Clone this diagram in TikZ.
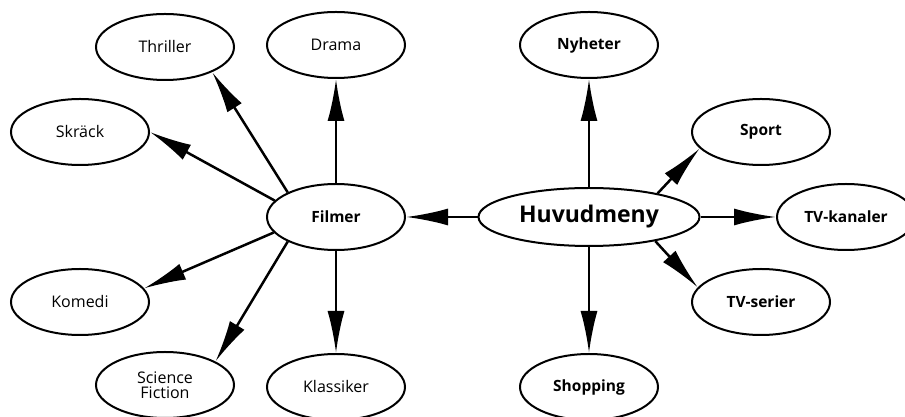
\documentclass[tikz,border=0pt]{standalone}
\usepackage{fontspec}
\setmainfont{Open Sans}
\usetikzlibrary{shapes.geometric, arrows.meta, positioning}

\begin{document}
\begin{tikzpicture}[
    x=1pt, y=1pt,
    item/.style={ellipse, draw, line width=2pt, minimum width=138pt,
                 minimum height=66pt, inner sep=0pt, align=center,
                 font=\fontsize{16}{15.5}\selectfont},
    chan/.style={item, font=\fontsize{15.5}{15.5}\selectfont\bfseries},
    hub/.style={item, minimum width=221pt, minimum height=58pt,
                font=\fontsize{23}{24}\selectfont\bfseries},
    arrow/.style={-{Latex[length=42pt, width=17pt]}, line width=2.5pt},
    node distance=104pt
  ]
    \useasboundingbox (0,0) rectangle (905,417);

    \node[hub]  (meny)   at (589,200) {Huvudmeny};
    \node[chan] (filmer) at (336,200) {Filmer};

    % film genres
    \node[item, above=of filmer] (drama)     {Drama};
    \node[item, below=102pt of filmer] (klassiker) {Klassiker};
    \node[item] (thriller) at (165,370) {Thriller};
    \node[item] (skrack)   at (80,285)  {Skräck};
    \node[item] (komedi)   at (80,115)  {Komedi};
    \node[item] (scifi)    at (165,32)  {Science\\Fiction};

    % channels
    \node[chan, above=108pt of meny] (nyheter)  {Nyheter};
    \node[chan, below=106pt of meny] (shopping) {Shopping};
    \node[chan] (sport)     at (761,285) {Sport};
    \node[chan] (kanaler)   at (846,200) {TV-kanaler};
    \node[chan] (serier)    at (761,115) {TV-serier};

    \draw[arrow] (meny.west) -- (filmer.east);
    \draw[arrow] (meny.north) -- (nyheter.south);
    \draw[arrow] (meny.19) -- (sport.195);
    \draw[arrow] (meny.east) -- (kanaler.west);
    \draw[arrow] (meny.340) -- (serier.167);
    \draw[arrow] (meny.south) -- (shopping.north);

    \draw[arrow] (filmer.north) -- (drama.south);
    \draw[arrow] (filmer.153) -- (thriller.332);
    \draw[arrow] (filmer.165) -- (skrack.east);
    \draw[arrow] (filmer.194) -- (komedi.12);
    \draw[arrow] (filmer.207) -- (scifi.25);
    \draw[arrow] (filmer.south) -- (klassiker.north);
\end{tikzpicture}
\end{document}
